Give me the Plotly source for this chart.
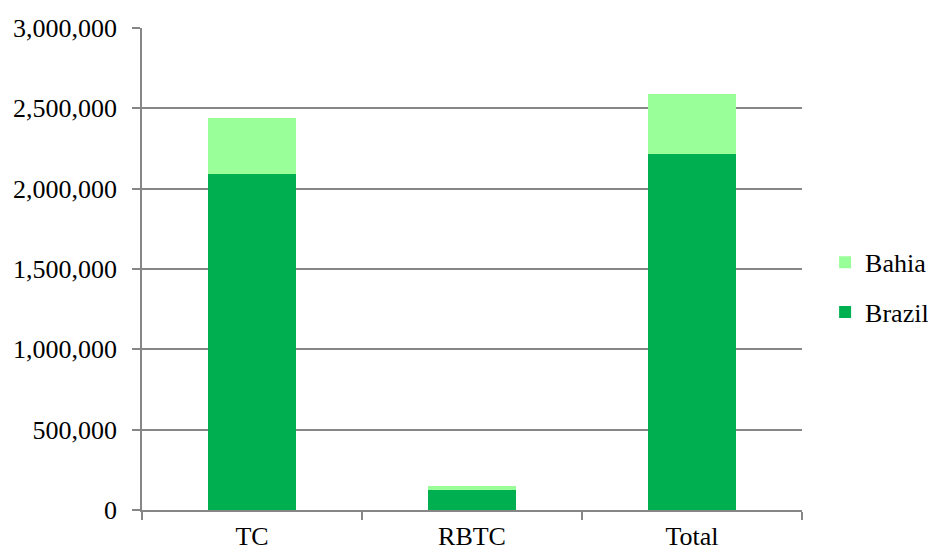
import plotly.graph_objects as go

categories = ["TC", "RBTC", "Total"]
brazil = [2091000, 123000, 2214000]
bahia = [350000, 28000, 378000]
y_ticks = [0, 500000, 1000000, 1500000, 2000000, 2500000, 3000000]

FONT = "Liberation Serif"
AXIS_COLOR = "#868686"

fig = go.Figure()
fig.add_trace(go.Bar(x=categories, y=brazil, name="Brazil", marker_color="#00B050",
                     marker_line_width=0, width=0.4, legendrank=2, legendgroup="brazil"))
fig.add_trace(go.Bar(x=categories, y=bahia, name="Bahia", marker_color="#99FF99",
                     marker_line_width=0, width=0.4, legendrank=1, legendgroup="bahia"))

fig.update_layout(
    barmode="stack",
    width=928, height=552,
    margin=dict(l=142, r=126, t=28, b=42, autoexpand=False),
    paper_bgcolor="white", plot_bgcolor="white",
    font=dict(family=FONT, size=26, color="black"),
    legend=dict(x=1.035, xanchor="left", y=0.462, yanchor="middle",
                traceorder="grouped", tracegroupgap=13,
                font=dict(family=FONT, size=26, color="black")),
    xaxis=dict(range=[-0.5, 2.5], showline=True, linecolor=AXIS_COLOR, linewidth=1.5,
               ticks="outside", tickson="boundaries", ticklen=8, tickcolor=AXIS_COLOR,
               tickwidth=1.5, showgrid=False, automargin=False, ticklabelstandoff=2),
    yaxis=dict(range=[0, 3000000], tickvals=y_ticks, tickformat=",", showline=True,
               linecolor=AXIS_COLOR, linewidth=1.5, ticks="outside", ticklen=8,
               tickcolor=AXIS_COLOR, tickwidth=1.5, showgrid=True, gridcolor=AXIS_COLOR,
               gridwidth=1.5, zeroline=False, automargin=False, ticklabelstandoff=10),
)

fig.write_html("out.html")
